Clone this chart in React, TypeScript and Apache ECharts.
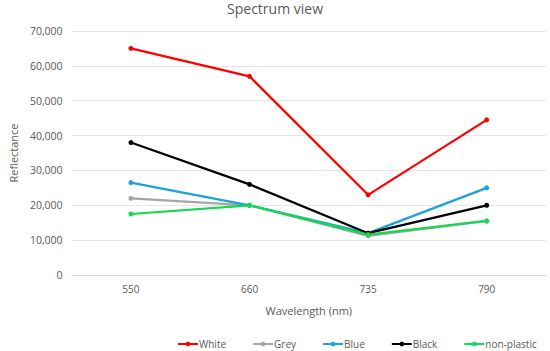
import React, { useEffect, useRef } from "react";
import * as echarts from "echarts";

const categories = ["550", "660", "735", "790"];
const white = [65000, 57000, 23000, 44500];
const grey = [22000, 20000, 11200, 15500];
const blue = [26500, 20000, 12000, 25000];
const black = [38000, 26000, 12000, 20000];
const nonPlastic = [17500, 20000, 11600, 15500];

const seriesDefs = [
  { name: "White", data: white, color: "#FF0000" },
  { name: "Grey", data: grey, color: "#A5A5A5" },
  { name: "Blue", data: blue, color: "#1AA3DB" },
  { name: "Black", data: black, color: "#000000" },
  { name: "non-plastic", data: nonPlastic, color: "#14D850" },
];

export default function App() {
  const ref = useRef<HTMLDivElement>(null);
  useEffect(() => {
    if (!ref.current) return;
    const chart = echarts.init(ref.current, null, { renderer: "svg" });
    const font = "'Open Sans', 'Liberation Sans', sans-serif";
    chart.setOption({
      animation: false,
      backgroundColor: "#ffffff",
      textStyle: { fontFamily: font },
      title: {
        text: "Spectrum view",
        left: "center",
        top: -4,
        textStyle: { fontSize: 14, fontWeight: "normal", color: "#595959", fontFamily: font },
      },
      legend: {
        left: 172,
        top: 334,
        itemWidth: 20,
        itemHeight: 6,
        itemGap: 26,
        textStyle: { fontSize: 10, color: "#595959", fontFamily: font, padding: [0, 0, 0, -4] },
        data: seriesDefs.map((s) => s.name),
      },
      grid: { left: 64, right: 4, top: 31, bottom: 76, containLabel: false },
      xAxis: {
        type: "category",
        data: categories,
        boundaryGap: true,
        name: "Wavelength (nm)",
        nameLocation: "middle",
        nameGap: 30,
        nameTextStyle: { fontSize: 11, color: "#595959" },
        axisLine: { show: true, lineStyle: { color: "#D9D9D9" } },
        axisTick: { show: false },
        axisLabel: { fontSize: 10, color: "#595959", margin: 9 },
      },
      yAxis: {
        type: "value",
        min: 0,
        max: 70000,
        interval: 10000,
        name: "Reflectance",
        nameLocation: "middle",
        nameGap: 50,
        nameTextStyle: { fontSize: 11, color: "#595959" },
        axisLine: { show: false },
        axisTick: { show: false },
        axisLabel: {
          fontSize: 10.5,
          color: "#595959",
          margin: 9,
          formatter: (v: number) => v.toLocaleString("en-US"),
        },
        splitLine: { lineStyle: { color: "#E6E6E6", width: 1 } },
      },
      series: seriesDefs.map((s) => ({
        name: s.name,
        type: "line",
        data: s.data,
        symbol: "circle",
        symbolSize: 5,
        lineStyle: { color: s.color, width: 2.25 },
        itemStyle: { color: s.color },
        emphasis: { disabled: true },
      })),
    });
    return () => chart.dispose();
  }, []);
  return <div ref={ref} style={{ width: 550, height: 351, position: "absolute", left: 0, top: 0 }} />;
}
